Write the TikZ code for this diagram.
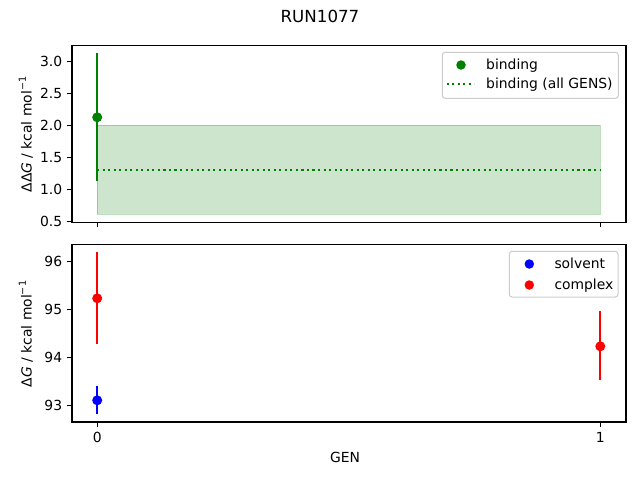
\documentclass[tikz,border=0pt]{standalone}
\usepackage{fontspec}
\setmainfont{DejaVu Sans}
\definecolor{mgreen}{RGB}{0,128,0}
\definecolor{mblue}{RGB}{0,0,255}
\definecolor{mred}{RGB}{255,0,0}
\definecolor{legedge}{RGB}{204,204,204}
\newcommand{\nf}{\fontsize{13.89}{16}\selectfont}
\newcommand{\supm}[1]{\raisebox{0.42em}{\fontsize{9.7}{10}\selectfont #1}}
\begin{document}
\begin{tikzpicture}[x=1pt,y=-1pt,
  spine/.style={line width=1.1pt,black},
  tickln/.style={line width=1.1pt,black},
  ylab/.style={anchor=east,inner sep=0pt,font=\nf},
  xlab/.style={anchor=north,inner sep=0pt,font=\nf},
  ebar/.style={line width=2.08pt},
  dot/.style={circle,inner sep=0pt,minimum size=10pt},
  ldot/.style={circle,inner sep=0pt,minimum size=9.5pt},
  legbox/.style={draw=legedge,fill=white,fill opacity=0.8,line width=1pt,rounded corners=2.8pt},
  legtxt/.style={anchor=base west,inner sep=0pt,font=\nf},
  dotline/.style={line width=2.08pt,dash pattern=on 2.08pt off 3.44pt}
]
\useasboundingbox (0,0) rectangle (640,480);
\fill[white] (0,0) rectangle (640,480);

% title
\node[inner sep=0pt,font=\fontsize{16.67}{18}\selectfont] (title) at (320,16.2) {RUN1077};

% ================= top axes =================
% shaded band
\fill[mgreen,fill opacity=0.2] (97.2,125.3) rectangle (600.3,214.3);
\draw[mgreen,draw opacity=0.25,line width=1pt] (97.2,125.3) rectangle (600.3,214.3);
% dotted line
\draw[mgreen,dotline] (97.2,169.7) -- (600.3,169.7);
% error bar + point
\draw[mgreen,ebar] (97.2,53.3) -- (97.2,181.3);
\node[dot,fill=mgreen] (pbind) at (97.2,117.3) {};
% spines
\draw[spine] (72,45.3) rectangle (626,222.3);
% y ticks
\foreach \v/\y in {3.0/61.3,2.5/93.3,2.0/125.3,1.5/157.3,1.0/189.3,0.5/221.3}{
  \draw[tickln] (72,\y) -- (67.1,\y);
  \node[ylab] at (62.3,\y) {\v};
}
% x ticks
\foreach \x in {97.2,600.3}{\draw[tickln] (\x,222.3) -- (\x,227.2);}
% y label
\node[rotate=90,anchor=base,inner sep=0pt,font=\nf] (ylabtop) at (31.7,134.5)
  {ΔΔ\textit{G} / kcal mol\supm{−1}};
% legend
\draw[legbox] (442.3,52.3) rectangle (618.3,98.3);
\node[ldot,fill=mgreen] (lgbind) at (461,65) {};
\node[legtxt] (tbind) at (486,69.6) {binding};
\draw[mgreen,dotline] (446.7,84.3) -- (474.3,84.3);
\node[legtxt] (tball) at (486,88.9) {binding (all GENS)};

% ================= bottom axes =================
\draw[mred,ebar] (97.2,252) -- (97.2,344.3);
\draw[mblue,ebar] (97.2,385.7) -- (97.2,413.7);
\draw[mred,ebar] (600.3,311) -- (600.3,380.3);
\node[dot,fill=mblue] (psol) at (97.2,400.3) {};
\node[dot,fill=mred] (pcom0) at (97.2,298.3) {};
\node[dot,fill=mred] (pcom1) at (600.3,346.3) {};
\draw[spine] (72,244.7) rectangle (626,422);
\foreach \v/\y in {96/261.3,95/309.4,94/357.6,93/405.7}{
  \draw[tickln] (72,\y) -- (67.1,\y);
  \node[ylab] at (62.3,\y) {\v};
}
\foreach \x/\l in {97.2/0,600.3/1}{
  \draw[tickln] (\x,422) -- (\x,426.9);
  \node[xlab] at (\x,431.9) {\l};
}
\node[rotate=90,anchor=base,inner sep=0pt,font=\nf] (ylabbot) at (31.7,334)
  {Δ\textit{G} / kcal mol\supm{−1}};
\node[inner sep=0pt,anchor=base,font=\nf] (xlabel) at (345,462.3) {GEN};
% legend
\draw[legbox] (509.3,251.3) rectangle (618,297);
\node[ldot,fill=mblue] (lgsol) at (529.3,264) {};
\node[legtxt] (tsol) at (554.3,268.6) {solvent};
\node[ldot,fill=mred] (lgcom) at (529.3,285) {};
\node[legtxt] (tcom) at (554.3,289.6) {complex};
\end{tikzpicture}
\end{document}
